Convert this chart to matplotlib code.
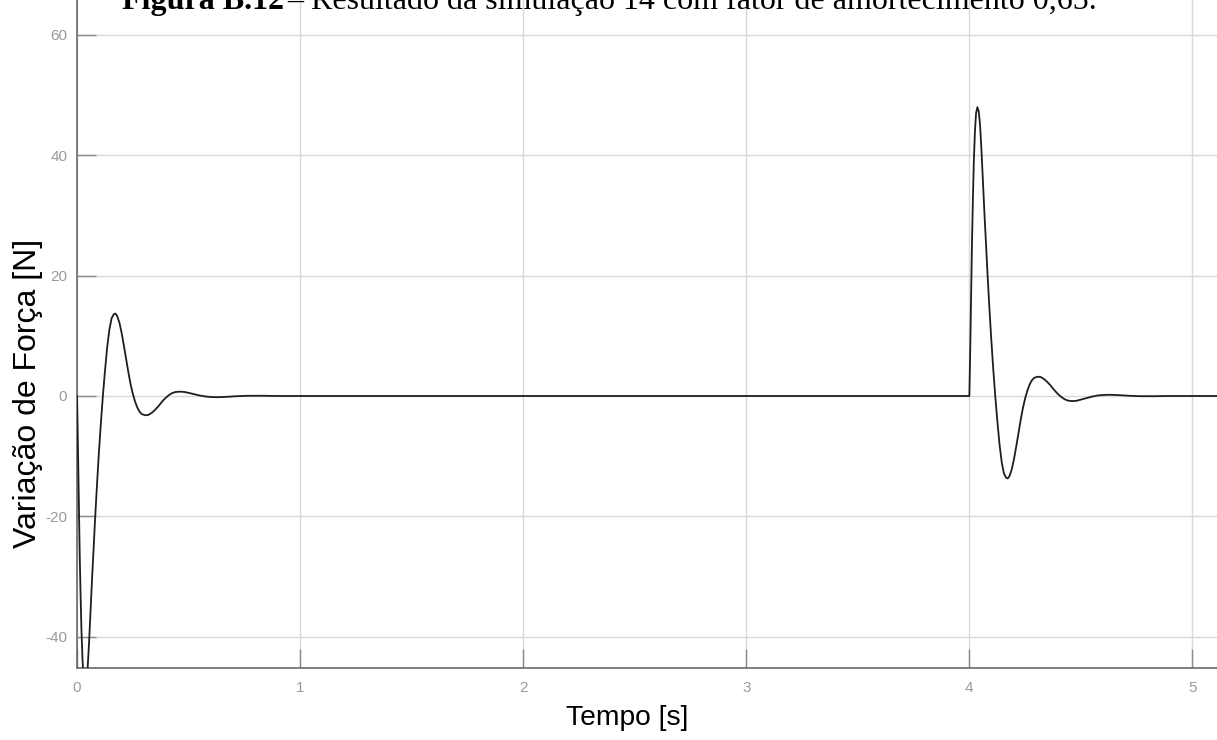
import matplotlib
matplotlib.use('Agg')
import matplotlib.pyplot as plt

plt.rcParams['axes.unicode_minus'] = False

# response after the initial (negative) step at t = 0
t_start = [0.000, 0.004, 0.008, 0.012, 0.016, 0.020, 0.025, 0.030, 0.036, 0.042,
           0.048, 0.054, 0.061, 0.068, 0.075, 0.081, 0.090, 0.098, 0.107, 0.116,
           0.125, 0.135, 0.145, 0.155, 0.165, 0.172, 0.180, 0.190, 0.200, 0.210,
           0.220, 0.230, 0.240, 0.250, 0.260, 0.270, 0.280, 0.290, 0.305, 0.320,
           0.335, 0.350, 0.365, 0.380, 0.395, 0.410, 0.425, 0.440, 0.460, 0.480,
           0.500, 0.525, 0.550, 0.575, 0.600, 0.625, 0.650, 0.680, 0.720, 0.760,
           0.820, 0.900]
f_start = [0.0, -8.0, -17.0, -26.0, -33.0, -39.0, -44.0, -47.0, -48.0, -47.3,
           -45.0, -41.0, -35.5, -30.0, -25.0, -20.5, -14.5, -9.5, -4.5, 0.0,
           4.0, 8.0, 11.0, 12.9, 13.6, 13.7, 13.3, 12.2, 10.5, 8.4,
           6.2, 4.0, 2.0, 0.4, -0.9, -1.9, -2.6, -3.0, -3.2, -3.15,
           -2.8, -2.3, -1.7, -1.0, -0.4, 0.1, 0.45, 0.65, 0.72, 0.68,
           0.52, 0.3, 0.08, -0.08, -0.17, -0.2, -0.18, -0.12, -0.03, 0.03,
           0.04, 0.0]

# response after the positive step at t = 4 s
t_step = [4.000, 4.004, 4.008, 4.012, 4.016, 4.020, 4.025, 4.030, 4.036, 4.042,
          4.048, 4.054, 4.061, 4.068, 4.075, 4.081, 4.090, 4.098, 4.107, 4.116,
          4.125, 4.135, 4.145, 4.155, 4.165, 4.172, 4.180, 4.190, 4.200, 4.210,
          4.220, 4.230, 4.240, 4.250, 4.260, 4.270, 4.280, 4.290, 4.305, 4.320,
          4.335, 4.350, 4.365, 4.380, 4.395, 4.410, 4.425, 4.440, 4.460, 4.480,
          4.500, 4.525, 4.550, 4.575, 4.600, 4.625, 4.650, 4.680, 4.720, 4.760,
          4.820, 4.900, 5.110]
f_step = [0.0, 8.0, 17.0, 26.0, 33.0, 39.0, 44.0, 47.0, 48.0, 47.3,
          45.0, 41.0, 35.5, 30.0, 25.0, 20.5, 14.5, 9.5, 4.5, 0.0,
          -4.0, -8.0, -11.0, -12.9, -13.6, -13.7, -13.3, -12.2, -10.5, -8.4,
          -6.2, -4.0, -2.0, -0.4, 0.9, 1.9, 2.6, 3.0, 3.2, 3.15,
          2.8, 2.3, 1.7, 1.0, 0.4, -0.1, -0.5, -0.75, -0.85, -0.8,
          -0.6, -0.35, -0.1, 0.08, 0.17, 0.2, 0.18, 0.12, 0.03, -0.03,
          -0.04, 0.0, 0.0]

x_ticks = [0, 1, 2, 3, 4, 5]
y_ticks = [-40, -20, 0, 20, 40, 60]

t = t_start + t_step
f = f_start + f_step

fig = plt.figure(figsize=(12.17, 7.40), dpi=100)
ax = fig.add_axes([77 / 1217, 72 / 740, 1 - 77 / 1217, 1 - 72 / 740])

ax.plot(t, f, color='#1e1e1e', lw=1.3, zorder=3)

ax.set_xlim(0, 5.11)
ax.set_ylim(-45.2, 65.8)
ax.set_xticks(x_ticks)
ax.set_yticks(y_ticks)
ax.grid(True, color='#d8d8d8', lw=1.0)
ax.set_axisbelow(True)

for side in ['top', 'right']:
    ax.spines[side].set_visible(False)
for side in ['left', 'bottom']:
    ax.spines[side].set_color('#6a6a6a')
    ax.spines[side].set_linewidth(1.2)

ax.tick_params(direction='in', length=14, width=1.0, color='#8a8a8a',
               labelcolor='#9a9a9a', labelsize=11)
ax.tick_params(axis='x', pad=9)
ax.tick_params(axis='y', pad=7)
for lab in ax.get_xticklabels() + ax.get_yticklabels():
    lab.set_family('Liberation Sans')

fig.text(627 / 1217, 1 - 718 / 740, 'Tempo [s]', family='Liberation Sans',
         fontsize=20.3, ha='center', va='center')
fig.text(28 / 1217, 1 - 393 / 740, 'Variação de Força [N]', family='Liberation Sans',
         fontsize=23, rotation=90, ha='center', va='center')

# caption of the page, cut off at the top of the image
fig.text(122 / 1217, 1 - 9 / 740, 'Figura B.12', family='Liberation Serif',
         fontweight='bold', fontsize=23, ha='left', va='baseline')
fig.text(287 / 1217, 1 - 9 / 740,
         '– Resultado da simulação 14 com fator de amortecimento 0,65.',
         family='Liberation Serif', fontsize=23, ha='left', va='baseline')

fig.savefig('out.png', dpi=100)
